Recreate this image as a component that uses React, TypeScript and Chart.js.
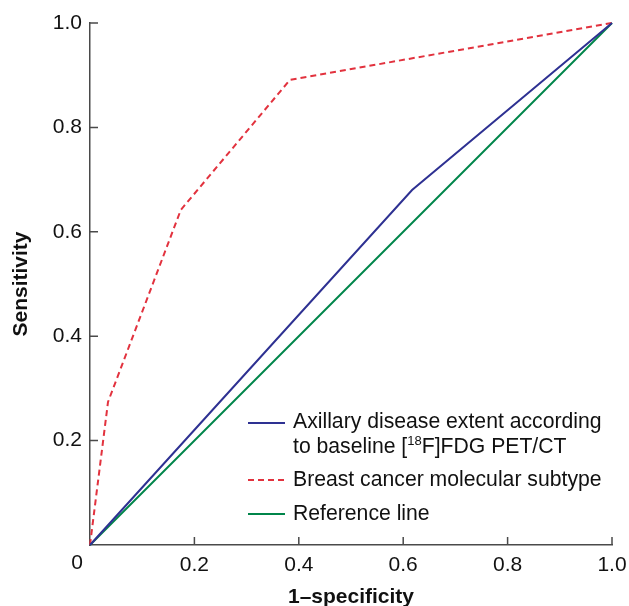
import { useEffect, useRef } from 'react';
import { Chart, registerables } from 'chart.js';

Chart.register(...registerables);

// ---- data ----
const axillaryX = [0, 0.617, 1];
const axillaryY = [0, 0.68, 1];
const subtypeX = [0, 0.0345, 0.174, 0.383, 1];
const subtypeY = [0, 0.274, 0.642, 0.891, 1];
const referenceX = [0, 1];
const referenceY = [0, 1];
const tickValues = [0, 0.2, 0.4, 0.6, 0.8, 1.0];
const xTitle = '1–specificity';
const yTitle = 'Sensitivity';
const originLabel = '0';
const legendAxillaryLine1 = 'Axillary disease extent according';
const legendAxillaryLine2 = ['to baseline [', '18', 'F]FDG PET/CT'];
const legendSubtype = 'Breast cancer molecular subtype';
const legendReference = 'Reference line';

const BLUE = '#2e3192';
const RED = '#e2323e';
const GREEN = '#00854a';
const AXIS = '#4a4a4a';
const FONT = "'Liberation Sans', Arial, Helvetica, sans-serif";

const toPoints = (xs: number[], ys: number[]) => xs.map((x, i) => ({ x, y: ys[i] }));

const innerTicks = {
  id: 'innerTicks',
  afterDraw(chart: any) {
    const { ctx } = chart;
    const xs = chart.scales.x;
    const ys = chart.scales.y;
    const x0 = xs.getPixelForValue(0);
    const y0 = ys.getPixelForValue(0);
    ctx.save();
    ctx.strokeStyle = AXIS;
    ctx.lineWidth = 1.5;
    ctx.beginPath();
    tickValues.forEach((v) => {
      if (v === 0) return;
      const px = xs.getPixelForValue(v);
      ctx.moveTo(px, y0);
      ctx.lineTo(px, y0 - 8);
      const py = ys.getPixelForValue(v);
      ctx.moveTo(x0, py);
      ctx.lineTo(x0 + 8, py);
    });
    ctx.stroke();
    // shared origin label
    ctx.fillStyle = '#111';
    ctx.font = `21px ${FONT}`;
    ctx.textAlign = 'center';
    ctx.textBaseline = 'top';
    ctx.fillText(originLabel, x0 - 13, y0 + 8);
    ctx.restore();
  },
};

const customLegend = {
  id: 'customLegend',
  afterDraw(chart: any) {
    const { ctx, chartArea } = chart;
    const L = chartArea.left;
    const T = chartArea.top;
    const lx1 = L + 158;
    const lx2 = L + 195;
    const tx = L + 203;
    ctx.save();
    ctx.lineWidth = 2;
    const sample = (y: number, color: string, dash: number[]) => {
      ctx.strokeStyle = color;
      ctx.setLineDash(dash);
      ctx.beginPath();
      ctx.moveTo(lx1, y);
      ctx.lineTo(lx2, y);
      ctx.stroke();
    };
    sample(T + 400, BLUE, []);
    sample(T + 457, RED, [6, 4]);
    sample(T + 491, GREEN, []);
    ctx.setLineDash([]);
    ctx.fillStyle = '#111';
    ctx.textAlign = 'left';
    ctx.textBaseline = 'middle';
    ctx.font = `21.2px ${FONT}`;
    ctx.fillText(legendAxillaryLine1, tx, T + 399);
    let x = tx;
    const y2 = T + 424;
    ctx.fillText(legendAxillaryLine2[0], x, y2);
    x += ctx.measureText(legendAxillaryLine2[0]).width;
    ctx.font = `13px ${FONT}`;
    ctx.fillText(legendAxillaryLine2[1], x, y2 - 6);
    x += ctx.measureText(legendAxillaryLine2[1]).width;
    ctx.font = `21.2px ${FONT}`;
    ctx.fillText(legendAxillaryLine2[2], x, y2);
    ctx.fillText(legendSubtype, tx, T + 457.5);
    ctx.fillText(legendReference, tx, T + 491);
    ctx.restore();
  },
};

export default function App() {
  const ref = useRef<HTMLCanvasElement | null>(null);
  useEffect(() => {
    if (!ref.current) return;
    const chart = new Chart(ref.current, {
      type: 'scatter',
      data: {
        datasets: [
          {
            label: 'Axillary',
            data: toPoints(axillaryX, axillaryY),
            showLine: true,
            borderColor: BLUE,
            borderWidth: 2,
            pointRadius: 0,
            clip: false,
          } as any,
          {
            label: 'Subtype',
            data: toPoints(subtypeX, subtypeY),
            showLine: true,
            borderColor: RED,
            borderWidth: 2,
            borderDash: [6, 4],
            pointRadius: 0,
            clip: false,
          },
          {
            label: 'Reference',
            data: toPoints(referenceX, referenceY),
            showLine: true,
            borderColor: GREEN,
            borderWidth: 2,
            pointRadius: 0,
            clip: false,
          },
        ],
      },
      options: {
        animation: false,
        responsive: true,
        maintainAspectRatio: false,
        layout: { padding: { top: 23, right: 17, left: 0, bottom: 0 } },
        plugins: { legend: { display: false }, tooltip: { enabled: false } },
        scales: {
          x: {
            type: 'linear',
            min: 0,
            max: 1,
            afterFit: (s: any) => {
              s.height = 61;
              s.paddingLeft = 0;
              s.paddingRight = 0;
            },
            afterBuildTicks: (s: any) => {
              s.ticks = tickValues.map((v) => ({ value: v }));
            },
            ticks: {
              color: '#111',
              padding: 8,
              maxRotation: 0,
              font: { family: FONT, size: 21 },
              callback: (v: any) => (Number(v) === 0 ? '' : Number(v).toFixed(1)),
            },
            grid: { display: false, drawTicks: false },
            border: { display: true, color: AXIS, width: 1.5 },
            title: {
              display: true,
              text: xTitle,
              color: '#111',
              font: { family: FONT, size: 21, weight: 'bold' },
              padding: { top: 0, bottom: -4 },
            },
          },
          y: {
            type: 'linear',
            min: 0,
            max: 1,
            afterFit: (s: any) => {
              s.width = 90;
              s.paddingTop = 0;
              s.paddingBottom = 0;
            },
            afterBuildTicks: (s: any) => {
              s.ticks = tickValues.map((v) => ({ value: v }));
            },
            ticks: {
              color: '#111',
              padding: 8,
              font: { family: FONT, size: 21 },
              callback: (v: any) => (Number(v) === 0 ? '' : Number(v).toFixed(1)),
            },
            grid: { display: false, drawTicks: false },
            border: { display: true, color: AXIS, width: 1.5 },
            title: {
              display: true,
              text: yTitle,
              color: '#111',
              font: { family: FONT, size: 21, weight: 'bold' },
              padding: { top: 9, bottom: 0 },
            },
          },
        },
      },
      plugins: [innerTicks, customLegend],
    });
    return () => chart.destroy();
  }, []);
  return (
    <div style={{ position: 'fixed', left: 0, top: 0, width: 629, height: 606, background: '#fff' }}>
      <canvas ref={ref} />
    </div>
  );
}
